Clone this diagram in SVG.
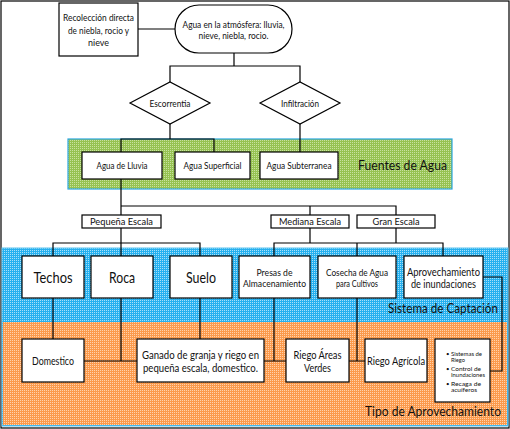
<svg xmlns="http://www.w3.org/2000/svg" width="510" height="429" viewBox="0 0 510 429">
<defs>
<pattern id="pg" width="2" height="2" patternUnits="userSpaceOnUse"><rect width="2" height="2" fill="#96c252"/><rect width="1" height="1" fill="#c8e2a0"/></pattern>
<pattern id="pb" width="2" height="2" patternUnits="userSpaceOnUse"><rect width="2" height="2" fill="#26b0ef"/><rect width="1" height="1" fill="#a8e0f8"/></pattern>
<pattern id="po" width="2" height="2" patternUnits="userSpaceOnUse"><rect width="2" height="2" fill="#fb9a4c"/><rect width="1" height="1" fill="#ffd2ad"/></pattern>
<style>
.n{fill:#fff;stroke:#000;stroke-width:1.2}
.c{fill:none;stroke:#000;stroke-width:1.2}
text{font-family:Lato,"Liberation Sans",sans-serif;fill:#111;text-anchor:middle;dominant-baseline:central}
.s{font-size:9px}
.m{font-size:10.5px}
.l{font-size:15px}
.t{font-size:14px;text-anchor:start}
.u{font-size:12.5px;text-anchor:start}
.b{font-size:6px;text-anchor:start}
</style>
</defs>
<rect x="1" y="1" width="508" height="427" fill="#fff" stroke="#000" stroke-width="1.2"/>
<g id="bands">
<rect x="68" y="139" width="384" height="50" fill="url(#pg)" stroke="#2aa6e0" stroke-width="1.2"/>
<rect x="2" y="248" width="506" height="178" fill="url(#pb)" stroke="#5cc3ef" stroke-width="1"/>
<rect x="3" y="322" width="504" height="103" fill="url(#po)"/>
<text class="t" x="358" y="164" textLength="89" lengthAdjust="spacingAndGlyphs">Fuentes de Agua</text>
<text class="u" x="388" y="308" textLength="110" lengthAdjust="spacingAndGlyphs">Sistema de Captación</text>
<text class="u" x="365" y="411" textLength="136" lengthAdjust="spacingAndGlyphs">Tipo de Aprovechamiento</text>
</g>
<g id="connectors">
<path class="c" d="M138 29H175"/>
<path class="c" d="M234 53V66M170 82V66H300V82"/>
<path class="c" d="M170 124V139M121 152V139H214V152M300 124V152"/>
<path class="c" d="M121 179V215M121 206H396V215M310 206V215"/>
<path class="c" d="M121 228V243M53 256V243H200V256M121 243V256"/>
<path class="c" d="M310 228V243M396 228V243M274 256V243H443V256M357 243V256"/>
<path class="c" d="M53 298V339M121 298V361M84 361H137M200 298V339"/>
<path class="c" d="M274 298V361M264 361H286M357 298V361M349 361H365"/>
<path class="c" d="M483 277H502V371H490"/>
</g>
<g id="n-recoleccion"><rect class="n" x="59" y="3" width="79" height="53"/>
<text class="s" x="98.5" y="17" textLength="71" lengthAdjust="spacingAndGlyphs">Recolección directa</text><text class="s" x="98.5" y="30" textLength="61" lengthAdjust="spacingAndGlyphs">de niebla, rocio y</text><text class="s" x="98.5" y="42" textLength="21" lengthAdjust="spacingAndGlyphs">nieve</text></g>
<g id="n-atmosfera"><rect class="n" x="175" y="5" width="117" height="48" rx="24"/>
<text class="s" x="233.5" y="24" textLength="102" lengthAdjust="spacingAndGlyphs">Agua en la atmósfera: lluvia,</text><text class="s" x="233.5" y="35" textLength="70" lengthAdjust="spacingAndGlyphs">nieve, niebla, rocio.</text></g>
<g id="n-escorrentia"><path class="n" d="M130 103L170 82L210 103L170 124Z"/><text class="s" x="170" y="103" textLength="41" lengthAdjust="spacingAndGlyphs">Escorrentia</text></g>
<g id="n-infiltracion"><path class="n" d="M260 103L300 82L340 103L300 124Z"/><text class="s" x="300" y="103" textLength="38" lengthAdjust="spacingAndGlyphs">Infiltración</text></g>
<g id="n-lluvia"><rect class="n" x="82" y="152" width="80" height="27"/><text class="s" x="122" y="165.5" textLength="51" lengthAdjust="spacingAndGlyphs">Agua de Lluvia</text></g>
<g id="n-superficial"><rect class="n" x="175" y="152" width="75" height="27"/><text class="s" x="212.5" y="165.5" textLength="58" lengthAdjust="spacingAndGlyphs">Agua Superficial</text></g>
<g id="n-subterranea"><rect class="n" x="260" y="152" width="78" height="27"/><text class="s" x="299" y="165.5" textLength="65" lengthAdjust="spacingAndGlyphs">Agua Subterranea</text></g>
<g id="n-pequena"><rect class="n" x="82" y="215" width="79" height="13"/><text class="s" x="121.5" y="221.5" textLength="63" lengthAdjust="spacingAndGlyphs">Pequeña Escala</text></g>
<g id="n-mediana"><rect class="n" x="271" y="215" width="78" height="13"/><text class="s" x="310" y="221.5" textLength="62" lengthAdjust="spacingAndGlyphs">Mediana Escala</text></g>
<g id="n-gran"><rect class="n" x="357" y="215" width="78" height="13"/><text class="s" x="396" y="221.5" textLength="47" lengthAdjust="spacingAndGlyphs">Gran Escala</text></g>
<g id="n-techos"><rect class="n" x="22" y="256" width="62" height="42"/><text class="l" x="53" y="277" textLength="39" lengthAdjust="spacingAndGlyphs">Techos</text></g>
<g id="n-roca"><rect class="n" x="91" y="256" width="62" height="42"/><text class="l" x="122" y="277" textLength="26" lengthAdjust="spacingAndGlyphs">Roca</text></g>
<g id="n-suelo"><rect class="n" x="170" y="256" width="62" height="42"/><text class="l" x="201" y="277" textLength="30" lengthAdjust="spacingAndGlyphs">Suelo</text></g>
<g id="n-presas"><rect class="n" x="239" y="256" width="71" height="42"/><text class="s" x="274.5" y="272" textLength="36" lengthAdjust="spacingAndGlyphs">Presas de</text><text class="s" x="274.5" y="283" textLength="63" lengthAdjust="spacingAndGlyphs">Almacenamiento</text></g>
<g id="n-cosecha"><rect class="n" x="318" y="256" width="78" height="42"/><text class="s" x="357" y="272" textLength="62" lengthAdjust="spacingAndGlyphs">Cosecha de Agua</text><text class="s" x="357" y="283" textLength="42" lengthAdjust="spacingAndGlyphs">para Cultivos</text></g>
<g id="n-aprovechamiento"><rect class="n" x="404" y="256" width="79" height="42"/><text class="m" x="443.5" y="272" textLength="73" lengthAdjust="spacingAndGlyphs">Aprovechamiento</text><text class="m" x="443.5" y="284" textLength="65" lengthAdjust="spacingAndGlyphs">de inundaciones</text></g>
<g id="n-domestico"><rect class="n" x="22" y="339" width="62" height="43"/><text class="m" x="53" y="361" textLength="42" lengthAdjust="spacingAndGlyphs">Domestico</text></g>
<g id="n-ganado"><rect class="n" x="137" y="339" width="127" height="43"/><text class="m" x="200.5" y="355" textLength="117" lengthAdjust="spacingAndGlyphs">Ganado de granja y riego en</text><text class="m" x="200.5" y="368" textLength="115" lengthAdjust="spacingAndGlyphs">pequeña escala, domestico.</text></g>
<g id="n-areas"><rect class="n" x="286" y="339" width="63" height="43"/><text class="m" x="317.5" y="355" textLength="48" lengthAdjust="spacingAndGlyphs">Riego Áreas</text><text class="m" x="317.5" y="368" textLength="27" lengthAdjust="spacingAndGlyphs">Verdes</text></g>
<g id="n-agricola"><rect class="n" x="365" y="339" width="62" height="43"/><text class="m" x="396" y="361" textLength="58" lengthAdjust="spacingAndGlyphs">Riego Agrícola</text></g>
<g id="n-lista"><rect class="n" x="435" y="339" width="55" height="63"/>
<text class="b" x="446" y="353">•</text><text class="b" x="451" y="353" textLength="31" lengthAdjust="spacingAndGlyphs">Sistemas de</text><text class="b" x="451" y="359" textLength="14" lengthAdjust="spacingAndGlyphs">Riego</text>
<text class="b" x="446" y="368">•</text><text class="b" x="451" y="368" textLength="30" lengthAdjust="spacingAndGlyphs">Control de</text><text class="b" x="451" y="374" textLength="34" lengthAdjust="spacingAndGlyphs">Inundaciones</text>
<text class="b" x="446" y="383">•</text><text class="b" x="451" y="383" textLength="30" lengthAdjust="spacingAndGlyphs">Recaga de</text><text class="b" x="451" y="389" textLength="26" lengthAdjust="spacingAndGlyphs">acuíferos</text></g>
</svg>
